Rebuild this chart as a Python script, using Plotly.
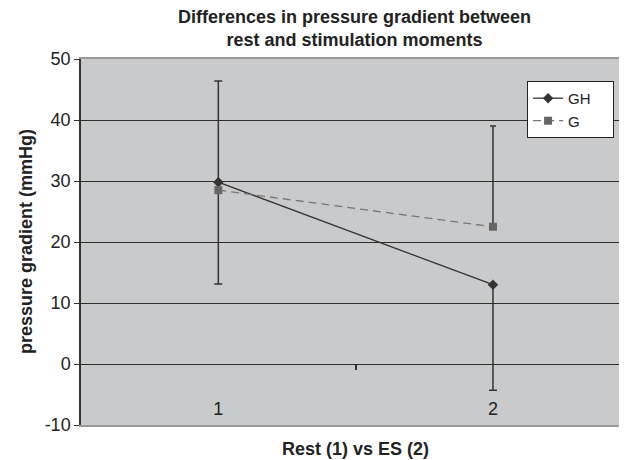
import plotly.graph_objects as go

categories = [1, 2]
tick_labels = ["1", "2"]
gh_values = [29.8, 13.0]
gh_err_plus = [16.6, 0.0]
gh_err_minus = [16.7, 17.3]
g_values = [28.5, 22.5]
g_err_plus = [0.0, 16.5]
g_err_minus = [0.0, 0.0]
y_ticks = [-10, 0, 10, 20, 30, 40, 50]
y_tick_labels = ["-10", "0", "10", "20", "30", "40", "50"]

FONT = "Liberation Sans, Arial, sans-serif"
NB = "\u00a0"

fig = go.Figure()
fig.add_trace(go.Scatter(
    x=categories, y=gh_values, name="GH" + NB * 4, mode="lines+markers",
    line=dict(color="#333333", width=1.3),
    marker=dict(symbol="diamond", size=8, color="#333333"),
    error_y=dict(type="data", symmetric=False, array=gh_err_plus,
                 arrayminus=gh_err_minus, color="#333333", thickness=1.5, width=4),
))
fig.add_trace(go.Scatter(
    x=categories, y=g_values, name="G", mode="lines+markers",
    line=dict(color="#777777", width=1.3, dash="8px,5px"),
    marker=dict(symbol="square", size=8, color="#666666"),
    error_y=dict(type="data", symmetric=False, array=g_err_plus,
                 arrayminus=g_err_minus, color="#333333", thickness=1.5, width=3),
))
# helper traces for the axis drawn at y = 0 and for the category labels
fig.add_trace(go.Scatter(x=[], y=[], xaxis="x2", showlegend=False, hoverinfo="skip"))
fig.add_trace(go.Scatter(x=[], y=[], xaxis="x3", showlegend=False, hoverinfo="skip"))

# page body has an 8px margin: shrink the figure so it fits the window
fig.update_layout(
    width=619, height=452,
    margin=dict(l=73, r=0, t=51, b=35),
    paper_bgcolor="white", plot_bgcolor="#c9cacc",
    font=dict(family=FONT, color="#222222"),
    showlegend=True,
    legend=dict(x=0.817, y=0.94, xanchor="left", yanchor="top",
                bgcolor="white", bordercolor="#222222", borderwidth=1,
                font=dict(size=15, family=FONT, color="#222222"),
                tracegroupgap=0),
    xaxis=dict(range=[0.5, 2.488], showticklabels=False,
               ticks="", showgrid=False, zeroline=False,
               showline=True, linecolor="#999999", linewidth=2, mirror=True),
    xaxis2=dict(overlaying="x", anchor="free", position=1/6,
                range=[0.5, 2.488], tickvals=[1.5], ticks="outside", ticklen=5,
                tickcolor="#333333", tickwidth=1.5, showticklabels=False,
                showgrid=False, zeroline=False, showline=False),
    xaxis3=dict(overlaying="x", anchor="free", position=0.078,
                range=[0.5, 2.488], tickvals=categories, ticktext=tick_labels,
                ticks="", showgrid=False, zeroline=False, showline=False,
                tickfont=dict(size=18, family=FONT, color="#222222")),
    yaxis=dict(range=[-10, 50], tickvals=y_ticks, ticktext=y_tick_labels, showgrid=True,
               gridcolor="#2e2e2e", gridwidth=1, zeroline=False,
               showline=True, linecolor="#333333", linewidth=1.5,
               ticks="outside", ticklen=5, tickcolor="#333333",
               tickfont=dict(size=18, family=FONT, color="#222222")),
    annotations=[
        dict(text="<b>Differences in pressure gradient between<br>rest and stimulation moments</b>",
             xref="paper", yref="paper", x=0.5, y=1.084, xanchor="center", yanchor="middle",
             showarrow=False, font=dict(size=18, family=FONT, color="#222222")),
        dict(text="<b>pressure gradient (mmHg)</b>", xref="paper", yref="paper",
             x=-0.1007, y=0.5, xanchor="center", yanchor="middle", textangle=-90,
             showarrow=False, font=dict(size=18, family=FONT, color="#222222")),
        dict(text="<b>Rest (1) vs ES (2)</b>", xref="paper", yref="paper",
             x=0.503, y=-0.0656, xanchor="center", yanchor="middle",
             showarrow=False, font=dict(size=18, family=FONT, color="#222222")),
    ],
)

fig.write_html("out.html")
